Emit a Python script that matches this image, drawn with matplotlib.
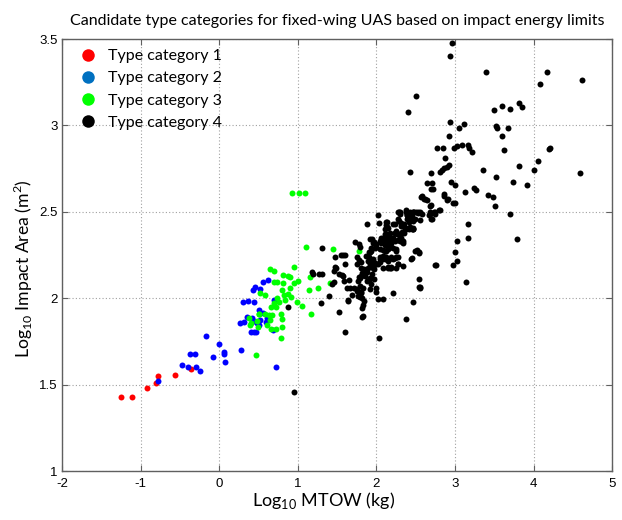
import numpy as np
import matplotlib.pyplot as plt
from matplotlib.lines import Line2D

plt.rcParams['axes.unicode_minus'] = False

# log10 MTOW (kg), log10 impact area (m^2)
red_points = [(-1.254, 1.432), (-1.105, 1.432), (-0.915, 1.484), (-0.80, 1.511),
              (-0.775, 1.55), (-0.564, 1.56), (-0.356, 1.59)]

blue_points = [(-0.775, 1.524), (-0.475, 1.613), (-0.403, 1.605), (-0.30, 1.603),
               (-0.247, 1.58), (-0.368, 1.677), (-0.305, 1.677), (-0.174, 1.786),
               (-0.076, 1.659), (0.0, 1.736), (0.058, 1.69), (0.058, 1.678),
               (0.076, 1.632), (0.275, 1.705), (0.72, 1.605),
               (0.30, 1.979), (0.363, 1.984), (0.445, 1.982), (0.427, 2.048),
               (0.46, 2.067), (0.516, 2.055), (0.559, 2.096), (0.623, 2.106),
               (0.27, 1.859), (0.313, 1.863), (0.356, 1.894), (0.423, 1.885),
               (0.44, 1.867), (0.483, 1.859), (0.503, 1.932), (0.516, 1.875),
               (0.56, 1.917), (0.508, 1.846), (0.40, 1.807), (0.44, 1.805),
               (0.466, 1.805), (0.61, 1.885), (0.59, 1.865), (0.694, 1.99),
               (0.686, 1.817)]

green_points = [(0.652, 2.173), (0.695, 2.16), (0.813, 2.135), (0.872, 2.13),
                (0.906, 2.125), (0.948, 2.182), (0.695, 2.096), (0.737, 2.096),
                (0.813, 2.09), (0.948, 2.092), (1.003, 2.10), (0.516, 2.032),
                (0.58, 2.019), (0.80, 2.048), (0.906, 2.058), (0.821, 2.019),
                (0.872, 2.025), (0.915, 2.009), (0.842, 1.99), (0.737, 2.0),
                (0.766, 1.98), (0.703, 1.975), (0.99, 1.98), (1.055, 1.955),
                (0.665, 1.951), (0.728, 1.948), (0.503, 1.913), (0.588, 1.913),
                (0.63, 1.904), (0.673, 1.904), (0.78, 1.908), (0.376, 1.89),
                (0.483, 1.869), (0.652, 1.875), (0.80, 1.879), (0.39, 1.846),
                (0.49, 1.836), (0.61, 1.846), (0.66, 1.825), (0.728, 1.821),
                (0.80, 1.833), (0.78, 1.771), (0.472, 1.673), (1.17, 1.913),
                (1.147, 2.048), (1.258, 2.058), (1.16, 2.125), (1.105, 2.30),
                (1.448, 2.285), (1.41, 2.087), (1.775, 2.273), (0.93, 2.612),
                (1.01, 2.612), (1.09, 2.612), (0.40, 1.856), (0.508, 1.913)]

black_points = [
    # low outliers
    (0.95, 1.46), (0.88, 1.95), (1.29, 1.975), (1.53, 1.92), (1.605, 1.807),
    (1.83, 1.96), (1.83, 1.90), (2.03, 1.773), (2.38, 1.879), (2.47, 1.98),
    (1.634, 1.986), (1.846, 1.986), (2.084, 1.996),
    # left part of main cluster
    (1.31, 2.289), (1.18, 2.154), (1.19, 2.14), (1.27, 2.14), (1.31, 2.14),
    (1.395, 2.015), (1.456, 2.096), (1.435, 2.083), (1.478, 2.18), (1.46, 2.16),
    (1.49, 2.175), (1.478, 2.237), (1.55, 2.25), (1.58, 2.252), (1.6, 2.25),
    (1.605, 2.202), (1.53, 2.14), (1.56, 2.135), (1.575, 2.128), (1.59, 2.10),
    (1.625, 2.063), (1.67, 2.063), (1.647, 2.105), (1.64, 1.99), (1.69, 2.02),
    (1.71, 2.058), (1.73, 2.327), (1.775, 2.317), (1.796, 2.30), (1.75, 2.237),
    (1.78, 2.22), (1.755, 2.20), (1.81, 2.21), (1.80, 2.177), (1.84, 2.168),
    (1.82, 2.15), (1.775, 2.125), (1.86, 2.13), (1.75, 2.055), (1.78, 2.04),
    (1.80, 2.03), (1.815, 2.004), (1.88, 2.154), (1.90, 2.105), (1.945, 2.14),
    (1.90, 2.27), (1.90, 2.24), (1.92, 2.22), (1.945, 2.20), (1.88, 2.429),
    (1.945, 2.346), (1.975, 2.327), (2.0, 2.298), (1.965, 2.173), (1.975, 2.115),
    (1.99, 2.058), (2.02, 2.481), (2.03, 2.437), (2.05, 2.211), (2.07, 2.23),
    (2.09, 2.235), (2.12, 2.24), (2.134, 2.44), (2.14, 2.413), (2.12, 2.35),
    (2.14, 2.345), (2.175, 2.35), (2.2, 2.35), (2.23, 2.34), (2.1, 2.32),
    (2.13, 2.31), (2.15, 2.29), (2.18, 2.295), (2.15, 2.22), (2.18, 2.235),
    (2.21, 2.228), (2.15, 2.18), (2.17, 2.175), (2.19, 2.18), (2.27, 2.20),
    (2.27, 2.24), (2.21, 2.032), (2.24, 2.43), (2.28, 2.46), (2.30, 2.49),
    (2.29, 2.5), (2.24, 2.38), (2.26, 2.375), (2.29, 2.37), (2.33, 2.385),
    (2.35, 2.38), (2.27, 2.34), (2.30, 2.33), (2.34, 2.32), (2.38, 2.5),
    (2.385, 2.48), (2.39, 2.46), (2.41, 2.44), (2.43, 2.415), (2.45, 2.40),
    (2.47, 2.405), (2.43, 2.5), (2.45, 2.49), (2.48, 2.5), (2.49, 2.46),
    (2.52, 2.28), (2.54, 2.27), (2.54, 2.111), (2.54, 2.066), (2.56, 2.066),
    (2.56, 2.5), (2.58, 2.49), (2.685, 2.487), (2.70, 2.539), (2.76, 2.192),
    (2.8, 2.51), (2.75, 2.49), (2.71, 2.46), (2.64, 2.57),
    # dense core
    (2.127, 2.427), (2.147, 2.41), (2.105, 2.401), (2.168, 2.381), (2.118, 2.372),
    (2.232, 2.381), (2.253, 2.391), (2.286, 2.449), (2.316, 2.439), (2.337, 2.42),
    (2.358, 2.41), (2.273, 2.372), (2.295, 2.362), (2.21, 2.349), (2.147, 2.349),
    (2.084, 2.343), (2.127, 2.333), (2.168, 2.333), (2.19, 2.323), (2.232, 2.333),
    (2.316, 2.349), (2.337, 2.333), (2.063, 2.323), (2.105, 2.31), (2.0, 2.313),
    (1.98, 2.294), (2.042, 2.285), (2.084, 2.279), (2.147, 2.285), (2.21, 2.294),
    (2.244, 2.275), (2.042, 2.237), (2.105, 2.227), (2.19, 2.237), (2.232, 2.233),
    (1.957, 2.227), (1.98, 2.208), (2.02, 2.199), (2.084, 2.179), (2.147, 2.179),
    (2.253, 2.179), (2.337, 2.189), (1.915, 2.343), (1.937, 2.275),
    (1.747, 2.044), (1.767, 2.016), (1.789, 2.006), (1.81, 2.035), (1.83, 2.06),
    (1.789, 2.073), (1.767, 2.102), (1.789, 2.121), (1.81, 2.131), (1.83, 2.141),
    (1.852, 2.16), (1.894, 2.179), (1.915, 2.199), (1.894, 2.218), (1.873, 2.247),
    (1.915, 2.266), (1.937, 2.294), (1.957, 2.323), (2.042, 2.333), (2.063, 2.351),
    (2.105, 2.372), (2.127, 2.275), (2.084, 2.247), (2.042, 2.227), (2.0, 2.199),
    (1.957, 2.179), (1.915, 2.121), (1.881, 2.102), (1.915, 2.054), (1.937, 2.083),
    (2.02, 1.996), (2.0, 2.035), (1.823, 1.944), (1.823, 1.894),
    (2.28, 2.5), (2.38, 2.51), (2.387, 2.48), (2.46, 2.5), (2.527, 2.494),
    (2.45, 2.46), (2.42, 2.45), (2.4, 2.41), (2.46, 2.4), (2.127, 2.44),
    (2.21, 2.43), (2.084, 2.351), (2.295, 2.343), (2.316, 2.333), (2.105, 2.275),
    (2.253, 2.285), (2.147, 2.218), (2.253, 2.237), (2.273, 2.199), (2.19, 2.176),
    (2.443, 2.229), (2.485, 2.275), (2.54, 2.265), (2.747, 2.194), (2.55, 2.06),
    # upper-right spread
    (2.57, 2.585), (2.61, 2.575), (2.687, 2.537), (2.675, 2.485), (2.69, 2.46),
    (2.857, 2.594), (2.906, 2.575), (2.978, 2.554), (2.738, 2.5), (2.683, 2.5),
    (2.876, 2.814), (3.215, 2.846), (2.43, 2.729), (2.70, 2.727), (2.81, 2.73),
    (2.835, 2.74), (2.865, 2.755), (2.9, 2.762), (2.92, 2.77), (2.65, 2.667),
    (2.71, 2.667), (2.69, 2.633), (2.72, 2.633), (2.95, 2.671), (3.0, 2.656),
    (3.13, 2.615), (3.24, 2.64), (3.27, 2.63), (2.58, 2.59), (2.62, 2.577),
    (2.86, 2.605), (2.9, 2.57), (3.0, 2.554), (2.81, 2.51), (2.75, 2.498),
    (3.16, 2.433), (3.16, 2.352), (3.02, 2.33), (3.0, 2.27), (3.03, 2.215),
    (2.98, 2.196), (2.45, 2.234), (2.55, 2.456), (2.46, 2.45), (2.45, 2.47),
    (2.41, 2.47), (2.30, 2.5), (2.50, 2.5), (2.53, 2.5), (2.47, 2.5),
    (2.38, 2.404), (2.47, 2.404), (2.42, 2.40), (2.35, 2.43), (2.31, 2.42),
    (2.966, 3.476), (2.937, 3.40), (3.39, 3.308), (4.168, 3.308), (4.08, 3.237),
    (4.61, 3.264), (2.50, 3.168), (2.405, 3.08), (3.50, 3.087), (3.595, 3.11),
    (3.70, 3.097), (3.814, 3.13), (3.85, 3.106), (2.937, 3.018), (3.054, 2.987),
    (3.114, 3.006), (3.52, 2.995), (3.53, 2.983), (3.68, 2.983), (2.93, 2.937),
    (3.595, 2.937), (2.776, 2.872), (2.85, 2.872), (2.99, 2.872), (3.03, 2.88),
    (3.09, 2.885), (3.17, 2.89), (3.18, 2.872), (3.63, 2.86), (4.198, 2.866),
    (4.21, 2.872), (3.36, 2.74), (3.81, 2.768), (4.05, 2.793), (4.01, 2.745),
    (4.585, 2.725), (3.52, 2.702), (3.74, 2.673), (3.91, 2.658), (3.42, 2.6),
    (3.49, 2.587), (3.51, 2.533), (3.70, 2.49), (3.79, 2.346), (3.146, 2.098),
]

series = [
    ('Type category 1', red_points, '#ff0000', '#ff0000'),
    ('Type category 2', blue_points, '#0000ff', '#0070c0'),
    ('Type category 3', green_points, '#00ff00', '#00ff00'),
    ('Type category 4', black_points, '#000000', '#000000'),
]

x_ticks = [-2, -1, 0, 1, 2, 3, 4, 5]
y_ticks = [1, 1.5, 2, 2.5, 3, 3.5]
y_tick_labels = ['1', '1.5', '2', '2.5', '3', '3.5']

fig = plt.figure(figsize=(6.22, 5.2), dpi=100)
ax = fig.add_axes([0.0997, 0.0933, 0.8845, 0.8317])

for name, pts, col, _ in series:
    pts = np.array(pts)
    ax.plot(pts[:, 0], pts[:, 1], 'o', color=col, ms=4.3, mec='none', zorder=3)

ax.set_xlim(-2, 5)
ax.set_ylim(1, 3.5)
ax.set_xticks(x_ticks)
ax.set_xticklabels([str(t) for t in x_ticks])
ax.set_yticks(y_ticks)
ax.set_yticklabels(y_tick_labels)
ax.tick_params(direction='in', length=4, top=True, right=True, color='#606060',
               labelsize=9.5)
ax.tick_params(axis='x', pad=5)
ax.tick_params(axis='y', pad=3)
for lab in ax.get_xticklabels() + ax.get_yticklabels():
    lab.set_fontfamily('Liberation Sans')
ax.grid(True, color='#a0a0a0', linestyle=(0, (1, 2)), linewidth=0.8)
for sp in ax.spines.values():
    sp.set_color('#606060')
    sp.set_linewidth(1.0)

ax.set_title('Candidate type categories for fixed-wing UAS based on impact energy limits',
             fontfamily='Lato', fontsize=11.5, pad=10)
ax.set_xlabel(r'Log$_\mathregular{10}$ MTOW (kg)', fontfamily='Lato', fontsize=13)
ax.set_ylabel(r'Log$_\mathregular{10}$ Impact Area (m$^\mathregular{2}$)',
              fontfamily='Lato', fontsize=12.7)
ax.xaxis.set_label_coords(0.475, -0.043)
ax.yaxis.set_label_coords(-0.05, 0.47)

handles = [Line2D([], [], marker='o', ls='none', color=leg_col, ms=9, mec='none')
           for _, _, _, leg_col in series]
ax.legend(handles, [s[0] for s in series], loc='upper left', frameon=False,
          bbox_to_anchor=(0.0, 1.01), prop={'family': 'Lato', 'size': 11.5},
          handletextpad=0.55, labelspacing=0.5, handlelength=1.4)

fig.savefig('out.png', dpi=100)
